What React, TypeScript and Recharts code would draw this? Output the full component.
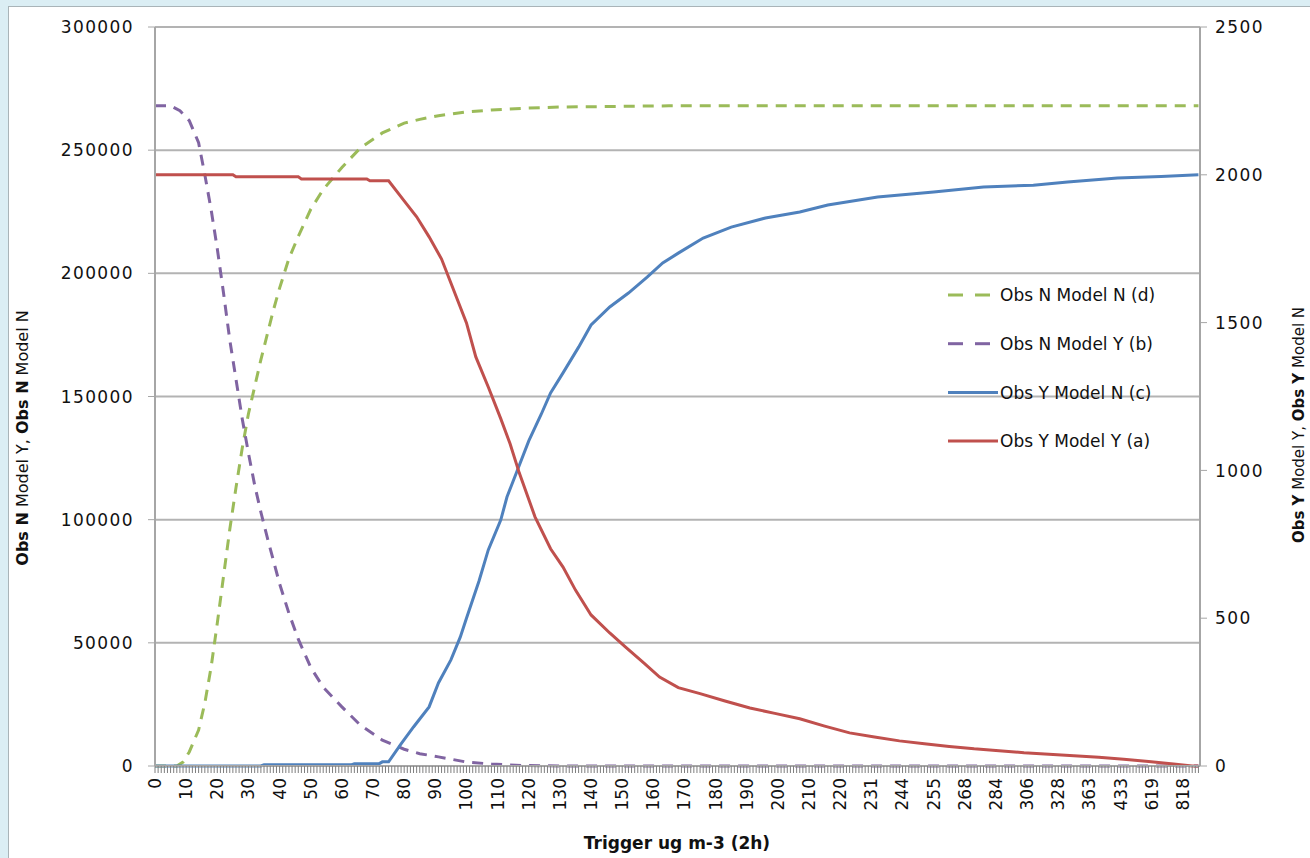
import React from 'react';
import { LineChart, Line, XAxis, YAxis, CartesianGrid } from 'recharts';

// category labels shown every 10th category on the x axis
const xLabels = [
  '0', '10', '20', '30', '40', '50', '60', '70', '80', '90', '100', '110', '120', '130', '140', '150',
  '160', '170', '180', '190', '200', '210', '220', '231', '244', '255', '268', '284', '306', '328',
  '363', '433', '619', '818',
];
const categoryCount = 336;

const leftTicks = [0, 50000, 100000, 150000, 200000, 250000, 300000];
const rightTicks = [0, 500, 1000, 1500, 2000, 2500];

// Obs N Model N (d) - left axis
const dIdx = [0, 7, 9, 11, 14, 16, 18, 20, 22, 24, 26, 28, 30, 32, 34, 36, 38, 40, 43, 46, 50, 54, 60, 66, 73, 80, 85, 91, 100, 108, 118, 130, 165, 335];
const dVal = [0, 0, 1600, 5700, 14600, 25600, 40000, 58000, 77000, 96000, 113000, 129000, 143000, 154000, 165000, 175000, 185000, 194000, 206000, 215000, 226000, 234000, 243000, 251000, 257000, 261000, 262500, 264000, 265500, 266300, 267000, 267500, 268000, 268000];

// Obs N Model Y (b) - left axis
const bIdx = [0, 5, 8, 11, 14, 16, 18, 20, 22, 24, 26, 28, 30, 32, 34, 36, 38, 40, 43, 46, 50, 54, 60, 66, 73, 80, 85, 91, 100, 108, 118, 130, 335];
const bVal = [268000, 268000, 266000, 262000, 253000, 240000, 226000, 210000, 192000, 173000, 157000, 141000, 127000, 114000, 103000, 93000, 83500, 74000, 62000, 51500, 40000, 32000, 24000, 16500, 10500, 6800, 5000, 3700, 1600, 800, 200, 0, 0];

// Obs Y Model N (c) - right axis
const cIdx = [0, 34, 35, 63, 64, 72, 73, 75, 79, 83, 88, 91, 95, 98, 100, 104, 107, 111, 113, 116, 120, 124, 127, 131, 136, 140, 146, 152, 158, 163, 168, 176, 185, 196, 207, 216, 232, 250, 266, 282, 293, 309, 323, 335];
const cVal = [0, 0, 4, 4, 8, 8, 14, 14, 75, 132, 200, 281, 359, 436, 500, 625, 731, 832, 910, 991, 1100, 1190, 1262, 1330, 1417, 1492, 1553, 1600, 1654, 1702, 1735, 1786, 1823, 1854, 1874, 1898, 1925, 1942, 1959, 1965, 1976, 1989, 1994, 2000];

// Obs Y Model Y (a) - right axis
const aIdx = [0, 25, 26, 46, 47, 68, 69, 75, 80, 84, 88, 92, 95, 100, 103, 107, 111, 114, 117, 122, 127, 131, 135, 140, 146, 151, 157, 162, 168, 175, 183, 191, 199, 207, 215, 223, 231, 239, 247, 255, 263, 271, 279, 287, 295, 303, 311, 319, 327, 333, 335];
const aVal = [2000, 2000, 1993, 1993, 1986, 1986, 1980, 1980, 1912, 1858, 1790, 1715, 1634, 1499, 1384, 1282, 1175, 1090, 990, 843, 735, 673, 595, 511, 450, 403, 348, 301, 265, 245, 220, 196, 178, 160, 135, 112, 98, 85, 75, 66, 58, 52, 45, 40, 35, 30, 23, 15, 7, 0, 0];

const toRows = (idx: number[], val: number[]) => idx.map((i, k) => ({ i, v: val[k] }));

const legendItems = [
  { name: 'Obs N Model N (d)', color: '#9BBB59', dashed: true },
  { name: 'Obs N Model Y (b)', color: '#8064A2', dashed: true },
  { name: 'Obs Y Model N (c)', color: '#4F81BD', dashed: false },
  { name: 'Obs Y Model Y (a)', color: '#C0504D', dashed: false },
];

const font = '"DejaVu Sans", Verdana, sans-serif';
const minorTicks = Array.from({ length: categoryCount }, (_, i) => i);

const XTick = (props: any) => {
  const { x, y, payload } = props;
  const i = payload.value;
  if (i % 10 !== 0 || !xLabels[i / 10]) return <g />;
  const ty = y + 3;
  return (
    <text x={x} y={ty} transform={`rotate(-90 ${x} ${ty})`} textAnchor="end" dy="0.35em"
      fontFamily={font} fontSize={17} fill="#111">
      {xLabels[i / 10]}
    </text>
  );
};

const LeftTick = (props: any) => {
  const { x, y, payload } = props;
  return (
    <text x={x - 12} y={y} textAnchor="end" dy="0.36em" fontFamily={font} fontSize={17}
      letterSpacing={1.4} fill="#111">
      {payload.value}
    </text>
  );
};

const RightTick = (props: any) => {
  const { x, y, payload } = props;
  return (
    <text x={x + 6} y={y} textAnchor="start" dy="0.36em" fontFamily={font} fontSize={17}
      letterSpacing={1.4} fill="#111">
      {payload.value}
    </text>
  );
};

const ChartLegend = () => (
  <g transform="translate(940 278)">
    {legendItems.map((it, k) => {
      const y = 17 + k * 48.7;
      return (
        <g key={it.name}>
          {it.dashed ? (
            <>
              <line x1={8} x2={23} y1={y} y2={y} stroke={it.color} strokeWidth={3} />
              <line x1={35} x2={50} y1={y} y2={y} stroke={it.color} strokeWidth={3} />
            </>
          ) : (
            <line x1={8} x2={58} y1={y} y2={y} stroke={it.color} strokeWidth={3} />
          )}
          <text x={60} y={y} dy="0.36em" fontFamily={font} fontSize={17} fill="#111">{it.name}</text>
        </g>
      );
    })}
  </g>
);

export default function App() {
  return (
    <div style={{ position: 'absolute', left: 0, top: 0, width: 1310, height: 858, overflow: 'hidden', background: '#dbeef4' }}>
      <div style={{ position: 'absolute', left: 8, top: 6, width: 1320, height: 870, background: '#fff', border: '1px solid #a9b4b8' }} />
      <div style={{ position: 'absolute', left: 0, top: 0 }}>
        <LineChart width={1310} height={858} margin={{ top: 27, right: 0, bottom: 0, left: 0 }}>
          <CartesianGrid yAxisId="left" xAxisId="x" horizontal vertical={false} stroke="#b3b3b3" strokeWidth={2} />
          <XAxis xAxisId="x" dataKey="i" type="number" domain={[0, 335.5]} ticks={minorTicks} interval={0}
            height={92} tick={<XTick />} tickSize={7}
            axisLine={{ stroke: '#a6a6a6', strokeWidth: 2 }} tickLine={{ stroke: '#7f7f7f', strokeWidth: 1 }}
            allowDuplicatedCategory={false} />
          <YAxis yAxisId="left" orientation="left" width={155} domain={[0, 300000]} ticks={leftTicks}
            interval={0} tick={<LeftTick />} tickSize={7} axisLine={{ stroke: '#a6a6a6', strokeWidth: 2 }}
            tickLine={{ stroke: '#a6a6a6', strokeWidth: 1 }} />
          <YAxis yAxisId="right" orientation="right" width={110} domain={[0, 2500]} ticks={rightTicks}
            interval={0} tick={<RightTick />} tickSize={7} axisLine={{ stroke: '#a6a6a6', strokeWidth: 2 }}
            tickLine={{ stroke: '#a6a6a6', strokeWidth: 1 }} />
          <Line xAxisId="x" yAxisId="left" data={toRows(dIdx, dVal)} dataKey="v" name="Obs N Model N (d)"
            stroke="#9BBB59" strokeWidth={3} strokeDasharray="11 8" dot={false} isAnimationActive={false} />
          <Line xAxisId="x" yAxisId="left" data={toRows(bIdx, bVal)} dataKey="v" name="Obs N Model Y (b)"
            stroke="#8064A2" strokeWidth={3} strokeDasharray="11 8" dot={false} isAnimationActive={false} />
          <Line xAxisId="x" yAxisId="right" data={toRows(cIdx, cVal)} dataKey="v" name="Obs Y Model N (c)"
            stroke="#4F81BD" strokeWidth={3} dot={false} isAnimationActive={false} />
          <Line xAxisId="x" yAxisId="right" data={toRows(aIdx, aVal)} dataKey="v" name="Obs Y Model Y (a)"
            stroke="#C0504D" strokeWidth={3} dot={false} isAnimationActive={false} />
          <ChartLegend />
          <text x={677} y={843} textAnchor="middle" dy="0.35em" fontFamily={font} fontSize={17} fontWeight="bold" fill="#111">
            Trigger ug m-3 (2h)
          </text>
          <text x={22} y={438} transform="rotate(-90 22 438)" textAnchor="middle" dy="0.35em" fontFamily={font} fontSize={16} fill="#111">
            <tspan fontWeight="bold">Obs N</tspan> Model Y, <tspan fontWeight="bold">Obs N</tspan> Model N
          </text>
          <text x={1299} y={425} transform="rotate(-90 1299 425)" textAnchor="middle" dy="0.35em" fontFamily={font} fontSize={15} fill="#111">
            <tspan fontWeight="bold">Obs Y</tspan> Model Y, <tspan fontWeight="bold">Obs Y</tspan> Model N
          </text>
        </LineChart>
      </div>
    </div>
  );
}
